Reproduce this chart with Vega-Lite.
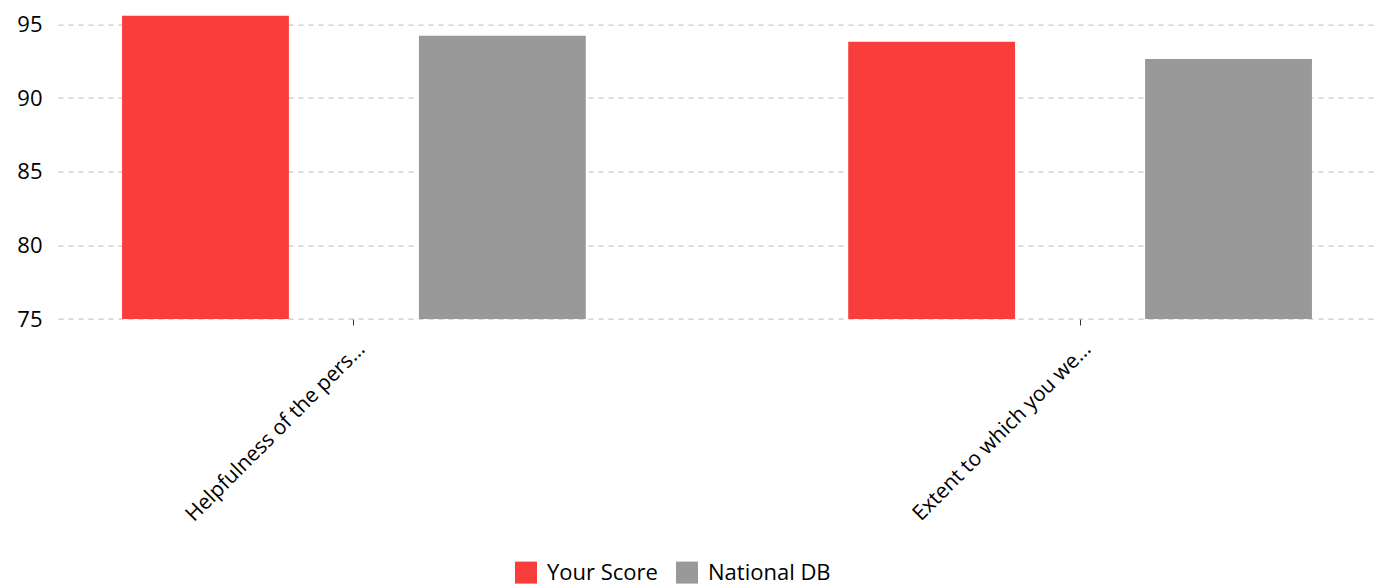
{
  "$schema": "https://vega.github.io/schema/vega-lite/v6.json",
  "width": 1318,
  "height": 309.4,
  "autosize": "none",
  "padding": {"left": 58, "top": 9.6, "right": 8, "bottom": 269},
  "background": "white",
  "config": {
    "view": {"stroke": null},
    "font": "Open Sans"
  },
  "data": {
    "values": [
      {"question": "Helpfulness of the pers…", "series": "Your Score", "value": 95.58},
      {"question": "Helpfulness of the pers…", "series": "National DB", "value": 94.22},
      {"question": "Extent to which you we…", "series": "Your Score", "value": 93.82},
      {"question": "Extent to which you we…", "series": "National DB", "value": 92.64}
    ]
  },
  "mark": {"type": "bar", "clip": true},
  "encoding": {
    "x": {
      "field": "question",
      "type": "nominal",
      "sort": null,
      "scale": {"paddingInner": 0.185, "paddingOuter": 0},
      "axis": {
        "title": null,
        "domain": false,
        "ticks": true,
        "tickSize": 6,
        "tickColor": "#333",
        "labelAngle": -45,
        "labelFontSize": 21,
        "labelColor": "#000",
        "labelPadding": 13,
        "labelLimit": 400
      }
    },
    "xOffset": {
      "field": "series",
      "type": "nominal",
      "sort": ["Your Score", "National DB"],
      "scale": {"paddingInner": 0.438, "paddingOuter": 0.2157}
    },
    "y": {
      "field": "value",
      "type": "quantitative",
      "scale": {"domain": [75, 96], "zero": false, "nice": false},
      "axis": {
        "title": null,
        "domain": false,
        "ticks": false,
        "values": [75, 80, 85, 90, 95],
        "labelFontSize": 22,
        "labelColor": "#000",
        "labelPadding": 16,
        "gridColor": "#bbbbbb",
        "gridDash": [5, 5],
        "gridWidth": 1
      }
    },
    "color": {
      "field": "series",
      "type": "nominal",
      "sort": ["Your Score", "National DB"],
      "scale": {"domain": ["Your Score", "National DB"], "range": ["#f93d3b", "#999999"]},
      "legend": {
        "title": null,
        "orient": "none",
        "direction": "horizontal",
        "legendX": 457,
        "legendY": 552,
        "symbolType": "square",
        "symbolSize": 484,
        "symbolStrokeWidth": 0,
        "symbolOpacity": 1,
        "labelFontSize": 22,
        "labelColor": "#000",
        "labelOffset": 10,
        "columnPadding": 18
      }
    }
  }
}
